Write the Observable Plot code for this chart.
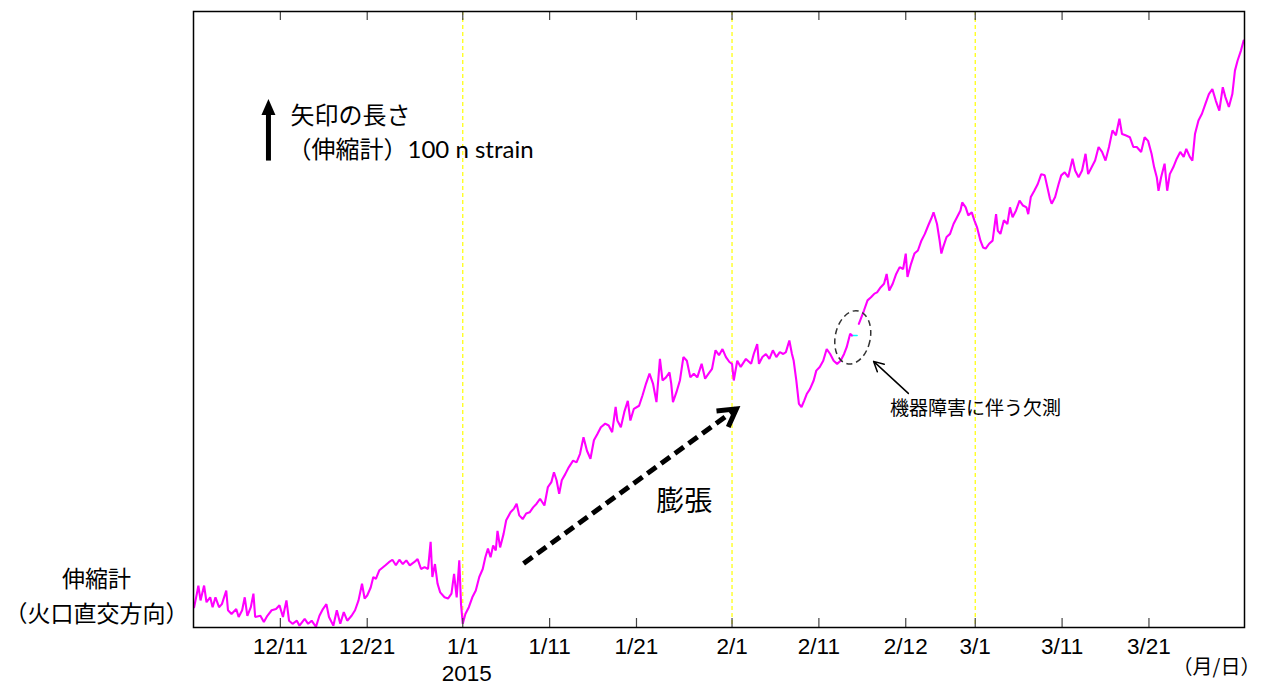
<!DOCTYPE html>
<html><head><meta charset="utf-8">
<script src="https://cdn.jsdelivr.net/npm/d3@7"></script>
<script src="https://cdn.jsdelivr.net/npm/@observablehq/plot@0.6"></script>
<style>html,body{margin:0;padding:0;background:#fff;} #chart svg{display:block;}</style>
</head><body><div id="chart"></div>
<script>
// ---- data (days since 2014-12-01, strain in n strain relative to the chart bottom) ----
const days = [0.07,0.39,0.56,0.81,1.22,1.5,1.92,2.2,2.53,2.94,3.27,3.77,3.97,4.38,4.92,5.2,5.6,5.9,6.2,6.6,6.9,7.1,7.7,8.1,8.5,9.0,9.5,9.9,10.3,10.7,11.0,11.4,11.9,12.2,12.8,13.2,13.6,14.1,14.5,14.9,15.3,15.6,16.1,16.5,16.9,17.3,17.7,18.2,18.6,19.0,19.4,19.7,20.0,20.4,20.7,21.0,21.4,22.1,22.5,22.9,23.3,23.7,24.1,24.5,24.9,25.4,25.8,26.2,26.6,27.0,27.3,27.5,27.8,28.1,28.4,28.9,29.3,29.7,30.0,30.3,30.6,30.8,31.0,31.3,31.7,32.1,32.5,32.9,33.3,33.6,33.9,34.2,34.5,34.8,35.0,35.3,35.7,36.0,36.5,36.9,37.2,37.5,37.9,38.3,38.7,39.1,39.5,39.9,40.4,40.8,41.2,41.5,41.8,42.1,42.4,42.8,43.2,43.7,44.1,44.5,44.9,45.3,45.7,46.1,46.5,46.9,47.4,47.8,48.2,48.6,48.8,49.2,49.6,50.0,50.3,50.7,51.3,51.7,52.1,52.5,52.9,53.3,53.7,54.0,54.4,54.8,55.0,55.2,55.6,56.0,56.4,56.8,57.2,57.6,58.0,58.5,58.9,59.3,59.7,60.1,60.5,60.9,61.3,61.7,62.0,62.2,62.6,63.0,63.6,64.2,64.5,64.9,65.1,65.5,65.9,66.3,66.7,67.1,67.5,67.9,68.2,68.6,68.9,69.1,69.4,69.7,70.0,70.3,70.6,70.97,71.4,71.7,72.1,72.5,72.9,73.3,73.7,74.1,74.5,74.9,75.2,75.6,75.8,76.2,76.6,76.9,77.2,77.6,78.0,78.4,78.7,79.1,79.5,79.8,80.1,80.5,80.9,81.3,81.7,82.0,82.2,82.6,83.0,83.4,83.8,84.2,84.6,85.0,85.2,85.6,85.9,86.1,86.3,86.7,87.1,87.5,87.9,88.3,88.5,88.9,89.2,89.6,89.9,90.2,90.6,90.9,91.2,91.6,92.0,92.4,92.6,92.9,93.3,93.7,94.0,94.3,94.7,95.1,95.5,95.9,96.1,96.4,96.8,97.2,97.6,98.0,98.3,98.6,98.8,99.2,99.6,99.9,100.3,100.7,101.2,101.5,101.9,102.3,102.7,103.0,103.4,103.8,104.2,104.6,105.0,105.4,105.8,106.2,106.6,106.9,107.3,107.8,108.2,108.6,109.1,109.5,109.9,110.3,110.6,110.9,111.1,111.4,111.8,112.1,112.4,112.8,113.2,113.6,114.0,114.3,114.7,115.0,115.3,115.7,116.1,116.5,116.9,117.3,117.7,118.1,118.5,118.8,119.2,119.6,119.9,120.2,120.6,120.9];
const strain = [33,55,68,44,68,41,49,33,49,33,38,60,28,22,30,17,28,49,19,33,55,17,19,9,19,28,30,36,17,44,11,6,11,3,14,6,11,1,19,30,38,17,3,28,6,25,11,19,28,44,71,47,52,65,82,79,93,101,106,110,101,110,103,109,101,106,111,95,98,95,139,82,103,71,57,49,47,55,87,49,109,38,6,22,33,49,60,82,95,114,128,114,133,125,157,130,152,174,187,193,201,182,176,185,187,195,201,209,198,228,236,252,239,217,239,249,260,271,268,282,309,287,274,304,314,325,331,328,317,358,336,325,350,368,336,355,360,377,396,412,396,366,436,401,406,414,396,366,382,401,439,433,406,412,406,428,404,412,420,450,442,452,439,431,428,401,433,423,436,428,444,460,428,439,444,436,450,439,447,444,447,466,444,433,401,363,358,368,379,387,401,417,423,433,452,444,433,428,433,444,455,477,474,null,493,504,515,531,536,542,544,552,558,574,547,558,574,585,582,607,569,590,607,612,628,639,653,666,674,655,628,607,617,634,639,655,666,677,690,682,669,674,661,650,628,617,615,623,628,671,644,639,661,655,682,666,677,693,685,682,671,699,709,720,736,734,715,696,688,699,720,734,739,731,761,742,731,742,769,736,747,758,780,772,758,780,807,799,826,801,799,796,780,780,772,796,790,769,747,731,709,731,753,709,736,747,761,772,764,777,764,758,801,823,834,850,866,874,855,839,877,861,845,866,904,920,937,953];
// short connector drawn across the outage gap
const gapDays = [75.75, 76.4];
const gapValues = [474, 474];

const tickDays = ["2014-12-11","2014-12-21","2015-01-01","2015-01-11","2015-01-21","2015-02-01","2015-02-11","2015-02-21","2015-03-01","2015-03-11","2015-03-21"];
const tickLabels = ["12/11","12/21","1/1","1/11","1/21","2/1","2/11","2/12","3/1","3/11","3/21"];
const monthStarts = ["2015-01-01","2015-02-01","2015-03-01"];

// annotations
const noteLabels = ["膨張", "機器障害に伴う欠測"];
const noteDays = [56.5, 80.2];
const noteValues = [203, 355.5];
const expansionDays = [38.0, 62.5];
const expansionValues = [104, 355];
const pointerDays = [82.3, 78.3];
const pointerValues = [380, 432];
const outageDay = 75.9, outageValue = 471;
const legendDay = 8.63, legendBase = 758, legendLength = 100;

// ---- build ----
const dayToDate = d => new Date(Date.UTC(2014, 11, 1) + d * 864e5);
const rows = days.map((d, i) => ({date: dayToDate(d), value: strain[i]}));
const gapRows = gapDays.map((d, i) => ({date: dayToDate(d), value: gapValues[i]}));
const tickDates = tickDays.map(s => new Date(s + "T00:00:00Z"));
const labelByTime = new Map(tickDates.map((d, i) => [+d, tickLabels[i]]));
const yellowDates = monthStarts.map(s => new Date(s + "T00:00:00Z"));
const notes = noteLabels.map((t, i) => ({text: t, date: dayToDate(noteDays[i]), value: noteValues[i]}));

const CJK = "'Noto Sans CJK JP', sans-serif";
const headSymbol = {draw(ctx) { ctx.moveTo(0, 0); ctx.lineTo(-7, 16); ctx.lineTo(7, 16); ctx.closePath(); }};
const chevronSymbol = {draw(ctx) { ctx.moveTo(-10, 17.3); ctx.lineTo(0, 0); ctx.lineTo(10, 17.3); }};
const ellipseSymbol = {draw(ctx) {
  const rx = 17.5, ry = 27, k = 0.5523;
  ctx.moveTo(rx, 0);
  ctx.bezierCurveTo(rx, ry * k, rx * k, ry, 0, ry);
  ctx.bezierCurveTo(-rx * k, ry, -rx, ry * k, -rx, 0);
  ctx.bezierCurveTo(-rx, -ry * k, -rx * k, -ry, 0, -ry);
  ctx.bezierCurveTo(rx * k, -ry, rx, -ry * k, rx, 0);
  ctx.closePath();
}};

const plot = Plot.plot({
  width: 1266, height: 684,
  marginLeft: 193, marginRight: 22, marginTop: 11, marginBottom: 57,
  style: {fontFamily: "'Liberation Sans', Arial, sans-serif", fontSize: "22px", background: "white", color: "black", overflow: "visible"},
  x: {type: "utc", domain: [dayToDate(0), dayToDate(121)], axis: null},
  y: {domain: [0, 1000], axis: null},
  marks: [
    Plot.ruleX(yellowDates, {x: d => d, stroke: "#ffff00", strokeWidth: 1.2, strokeDasharray: "4,3"}),
    Plot.line(gapRows, {x: "date", y: "value", stroke: "#00ffff", strokeWidth: 1.5}),
    Plot.line(rows, {x: "date", y: "value", stroke: "#ff00ff", strokeWidth: 2.1, strokeLinejoin: "miter"}),
    Plot.tickX(tickDates, {x: d => d, insetTop: 607, stroke: "#444", strokeWidth: 1.2}),
    Plot.tickX(tickDates, {x: d => d, insetBottom: 607, stroke: "#444", strokeWidth: 1.2}),
    Plot.axisX({ticks: tickDates, tickFormat: d => labelByTime.get(+d), tickSize: 0, tickPadding: 11, fontSize: 22.5, label: null}),
    Plot.frame({stroke: "black", strokeWidth: 1.5}),
    Plot.text([tickDates[2]], {x: d => d, frameAnchor: "bottom", dy: 46, dx: 4, text: () => "2015", fontSize: 22.5, textAnchor: "middle", lineAnchor: "middle"}),
    Plot.text(["（月/日）"], {text: d => d, frameAnchor: "bottom-right", dx: -28, dy: 40, fontSize: 20, fontFamily: CJK, textAnchor: "middle", lineAnchor: "middle"}),
    Plot.text(["伸縮計"], {text: d => d, frameAnchor: "bottom-left", dx: -97, dy: -48, fontSize: 23, fontFamily: CJK, textAnchor: "middle", lineAnchor: "middle"}),
    Plot.text(["（火口直交方向）"], {text: d => d, frameAnchor: "bottom-left", dx: -97, dy: -13, fontSize: 23, fontFamily: CJK, textAnchor: "middle", lineAnchor: "middle"}),
    // legend arrow (100 n strain)
    Plot.link([0], {x1: () => dayToDate(legendDay), x2: () => dayToDate(legendDay), y1: () => legendBase, y2: () => legendBase + legendLength - 20, stroke: "black", strokeWidth: 5}),
    Plot.dot([0], {x: () => dayToDate(legendDay), y: () => legendBase + legendLength, symbol: headSymbol, fill: "black", stroke: "none"}),
    Plot.text(["矢印の長さ"], {text: d => d, frameAnchor: "top-left", dx: 97, dy: 105, fontSize: 24, fontFamily: CJK, textAnchor: "start", lineAnchor: "middle"}),
    Plot.text(["（伸縮計）100 n strain"], {text: d => d, frameAnchor: "top-left", dx: 94, dy: 139, fontSize: 24, fontFamily: "Lato, 'Noto Sans CJK JP', sans-serif", textAnchor: "start", lineAnchor: "middle"}),
    // expansion arrow
    Plot.link([0], {x1: () => dayToDate(expansionDays[0]), y1: () => expansionValues[0], x2: () => dayToDate(expansionDays[1]), y2: () => expansionValues[1], stroke: "black", strokeWidth: 5, strokeDasharray: "11,6"}),
    Plot.dot([0], {x: () => dayToDate(expansionDays[1]), y: () => expansionValues[1], symbol: chevronSymbol, rotate: 54, fill: "none", stroke: "black", strokeWidth: 5, strokeLinejoin: "miter"}),
    Plot.text(notes.slice(0, 1), {x: "date", y: "value", text: "text", fontSize: 28, fontFamily: CJK, textAnchor: "middle", lineAnchor: "middle"}),
    // outage annotation
    Plot.dot([0], {x: () => dayToDate(outageDay), y: () => outageValue, symbol: ellipseSymbol, rotate: 12, fill: "none", stroke: "#333", strokeWidth: 1.5, strokeDasharray: "6,4"}),
    Plot.arrow([0], {x1: () => dayToDate(pointerDays[0]), y1: () => pointerValues[0], x2: () => dayToDate(pointerDays[1]), y2: () => pointerValues[1], stroke: "black", strokeWidth: 1.5, headLength: 11, headAngle: 55}),
    Plot.text(notes.slice(1), {x: "date", y: "value", text: "text", fontSize: 19, fontFamily: CJK, textAnchor: "start", lineAnchor: "middle"})
  ]
});
document.getElementById("chart").appendChild(plot);
</script>
</body></html>
